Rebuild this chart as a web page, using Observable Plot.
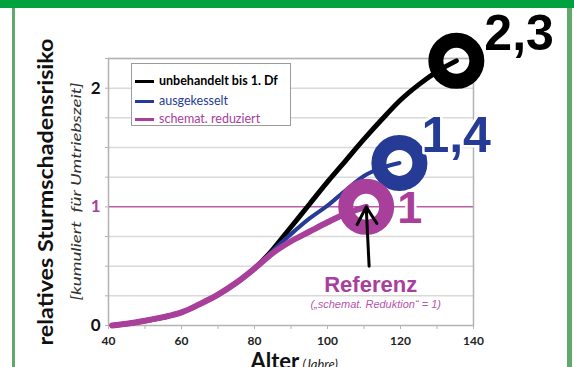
<!DOCTYPE html>
<html><head><meta charset="utf-8">
<script src="https://cdn.jsdelivr.net/npm/d3@7"></script>
<script src="https://cdn.jsdelivr.net/npm/@observablehq/plot@0.6"></script>
<style>
html,body{margin:0;padding:0;background:#fff;}
#wrap{position:relative;width:574px;height:367px;overflow:hidden;background:#fff;}
#topbar{position:absolute;left:0;top:0;width:574px;height:8px;background:#00a13f;}
#lline{position:absolute;left:12px;top:8px;width:3px;height:359px;background:#5fa96c;}
#rline{position:absolute;left:567px;top:8px;width:5px;height:359px;background:#5fa96c;}
#chart{position:absolute;left:0;top:0;}
#legend{position:absolute;left:131px;top:63px;width:158px;height:61px;border:1.5px solid #9a9a9a;background:#fff;font-family:Lato,sans-serif;font-size:12.5px;}
#legend .row{position:absolute;left:3px;height:14px;line-height:14px;white-space:nowrap;}
#legend .sw{display:inline-block;width:19px;height:3px;vertical-align:middle;margin-right:5px;}
</style>
</head><body>
<div id="wrap">
  <div id="chart"></div>
  <div id="legend"></div>
  <div id="topbar"></div>
  <div id="lline"></div>
  <div id="rline"></div>
</div>
<script>
// ---- data ----
const seriesNames = ["unbehandelt bis 1. Df", "ausgekesselt", "schemat. reduziert"];
const seriesColors = ["#000000", "#253b95", "#a8409b"];
const endLabels = ["2,3", "1,4", "1"];

const ageBlack  = [41, 45, 50, 55, 60, 65, 70, 75, 80, 85, 90, 95, 100, 105, 110, 115, 120, 125, 130, 135.3];
const riskBlack = [0, 0.015, 0.04, 0.07, 0.11, 0.18, 0.26, 0.36, 0.48, 0.64, 0.83, 1.02, 1.21, 1.39, 1.57, 1.74, 1.9, 2.03, 2.14, 2.23];

const ageBlue  = [41, 45, 50, 55, 60, 65, 70, 75, 80, 85, 90, 95, 100, 105, 110, 115, 119.7];
const riskBlue = [0, 0.015, 0.04, 0.07, 0.11, 0.18, 0.26, 0.36, 0.48, 0.63, 0.77, 0.9, 1.01, 1.14, 1.26, 1.33, 1.37];

const ageMag  = [41, 45, 50, 55, 60, 65, 70, 75, 80, 85, 90, 95, 100, 104, 110.6];
const riskMag = [0, 0.015, 0.04, 0.07, 0.11, 0.18, 0.26, 0.36, 0.48, 0.61, 0.71, 0.79, 0.87, 0.93, 1.0];

const xTicks = [40, 60, 80, 100, 120, 140];
const xMinorTicks = [40, 50, 60, 70, 80, 90, 100, 110, 120, 130, 140];
const yLabelTicks = [0, 1, 2];
const yGridTicks = [0.25, 0.5, 0.75, 1, 1.25, 1.5, 1.75, 2, 2.25];
const referenceLevel = [1];

const yTitle = "relatives Sturmschadensrisiko";
const ySubtitle = "[kumuliert  für Umtriebszeit]";
const xTitle = "Alter";
const xUnit = "(Jahre)";
const refLabel = "Referenz";
const refNote = "(„schemat. Reduktion“ = 1)";
const arrowStart = {age: 111.4, risk: 0.5};

// ---- build ----
const series = [
  {name: seriesNames[0], color: seriesColors[0], ages: ageBlack, risk: riskBlack, label: endLabels[0], sw: 5},
  {name: seriesNames[1], color: seriesColors[1], ages: ageBlue, risk: riskBlue, label: endLabels[1], sw: 4},
  {name: seriesNames[2], color: seriesColors[2], ages: ageMag, risk: riskMag, label: endLabels[2], sw: 6}
];
series.forEach(s => {
  s.points = s.ages.map((a, i) => ({age: a, risk: s.risk[i]}));
  s.end = s.points[s.points.length - 1];
});
const mag = seriesColors[2];
const labelOffsets = [{dx: 28, dy: -11, size: 50}, {dx: 22, dy: -11, size: 50}, {dx: 31, dy: 16, size: 45}];

const marks = [
  Plot.ruleY(yGridTicks.filter(v => !referenceLevel.includes(v)), {stroke: "#d9d9d9", strokeWidth: 1.5}),
  Plot.ruleY(referenceLevel, {stroke: "#b960ab", strokeWidth: 1.5}),
  Plot.frame({stroke: "#b3b3b3", strokeWidth: 1.5}),
  Plot.axisY({ticks: [0, ...yGridTicks], tickSize: 3, tickFormat: () => "", label: null, stroke: "#b3b3b3"}),
  Plot.axisX({ticks: xMinorTicks, tickSize: 4, tickFormat: () => "", label: null, stroke: "#b3b3b3"}),
  Plot.text(xTicks, {x: d => d, text: d => String(d), frameAnchor: "bottom", lineAnchor: "bottom", dy: 19,
    fontSize: 12, fontWeight: "bold", fill: "#222", fontFamily: "Lato"}),
  Plot.text(yLabelTicks, {y: d => d, text: d => String(d), frameAnchor: "left", textAnchor: "end", dx: -8,
    fontSize: 17, fontWeight: "bold", fill: d => referenceLevel.includes(d) ? mag : "#111", fontFamily: "Lato"}),
  Plot.text([yTitle], {frameAnchor: "left", textAnchor: "start", dx: -62, dy: 153.5, rotate: -90,
    fontSize: 21, fontWeight: "bold", fill: "#111", fontFamily: "Lato"}),
  Plot.text([ySubtitle], {frameAnchor: "left", textAnchor: "start", dx: -32, dy: 108.5, rotate: -90,
    fontSize: 14, fontStyle: "italic", fill: "#333", fontFamily: "Lato"}),
  Plot.text([xTitle], {frameAnchor: "bottom", textAnchor: "start", lineAnchor: "bottom", dx: -40.5, dy: 43,
    fontSize: 22, fontWeight: "bold", fill: "#111", fontFamily: "Lato"}),
  Plot.text([xUnit], {frameAnchor: "bottom", textAnchor: "start", lineAnchor: "bottom", dx: 11.5, dy: 43,
    fontSize: 13, fontStyle: "italic", fill: "#222", fontFamily: "Lato"})
];
series.forEach(s => {
  marks.push(Plot.line(s.points, {x: "age", y: "risk", stroke: s.color, strokeWidth: s.sw, curve: "monotone-x"}));
});
series.forEach(s => {
  marks.push(Plot.dot([s.end], {x: "age", y: "risk", r: 20.5, stroke: s.color, strokeWidth: 15, fill: "none"}));
});
series.forEach((s, i) => {
  const o = labelOffsets[i];
  marks.push(Plot.text([s.end], {x: "age", y: "risk", text: () => s.label, dx: o.dx, dy: o.dy,
    textAnchor: "start", lineAnchor: "bottom", fontSize: o.size, fontWeight: "bold", fill: s.color,
    fontFamily: "Liberation Sans", stroke: "white", strokeWidth: 5}));
});
const refEnd = series[2].end;
marks.push(
  Plot.arrow([{x1: arrowStart.age, y1: arrowStart.risk, x2: refEnd.age, y2: refEnd.risk}],
    {x1: "x1", y1: "y1", x2: "x2", y2: "y2", stroke: "#000", strokeWidth: 3, headLength: 13, bend: 0}),
  Plot.text([refEnd], {x: "age", y: "risk", text: () => refLabel, dx: 4.5, dy: 85, lineAnchor: "bottom",
    fontSize: 22, fontWeight: "bold", fill: mag, fontFamily: "Liberation Sans", stroke: "white", strokeWidth: 4}),
  Plot.text([refEnd], {x: "age", y: "risk", text: () => refNote, dx: 9.5, dy: 101, lineAnchor: "bottom",
    fontSize: 11, fontStyle: "italic", fill: "#b655a9", fontFamily: "Liberation Sans"})
);

const chart = Plot.plot({
  width: 574, height: 367,
  marginLeft: 108, marginRight: 101, marginTop: 58, marginBottom: 42,
  x: {domain: [40, 140]},
  y: {domain: [0, 2.25]},
  style: {background: "transparent", overflow: "visible"},
  marks
});
chart.querySelectorAll("text").forEach(t => {
  if (t.textContent === yTitle) { t.setAttribute("textLength", 307); t.setAttribute("lengthAdjust", "spacingAndGlyphs"); }
  if (t.textContent === ySubtitle) { t.setAttribute("textLength", 218); t.setAttribute("lengthAdjust", "spacingAndGlyphs"); }
});
document.getElementById("chart").appendChild(chart);

// legend
const legend = document.getElementById("legend");
const rowTops = [10, 30, 48];
series.forEach((s, i) => {
  const row = document.createElement("div");
  row.className = "row";
  row.style.top = rowTops[i] + "px";
  row.style.color = s.color;
  row.style.fontWeight = i === 0 ? "bold" : "normal";
  const sw = document.createElement("span");
  sw.className = "sw";
  sw.style.background = s.color;
  row.appendChild(sw);
  row.appendChild(document.createTextNode(s.name));
  legend.appendChild(row);
});
</script>
</body></html>
